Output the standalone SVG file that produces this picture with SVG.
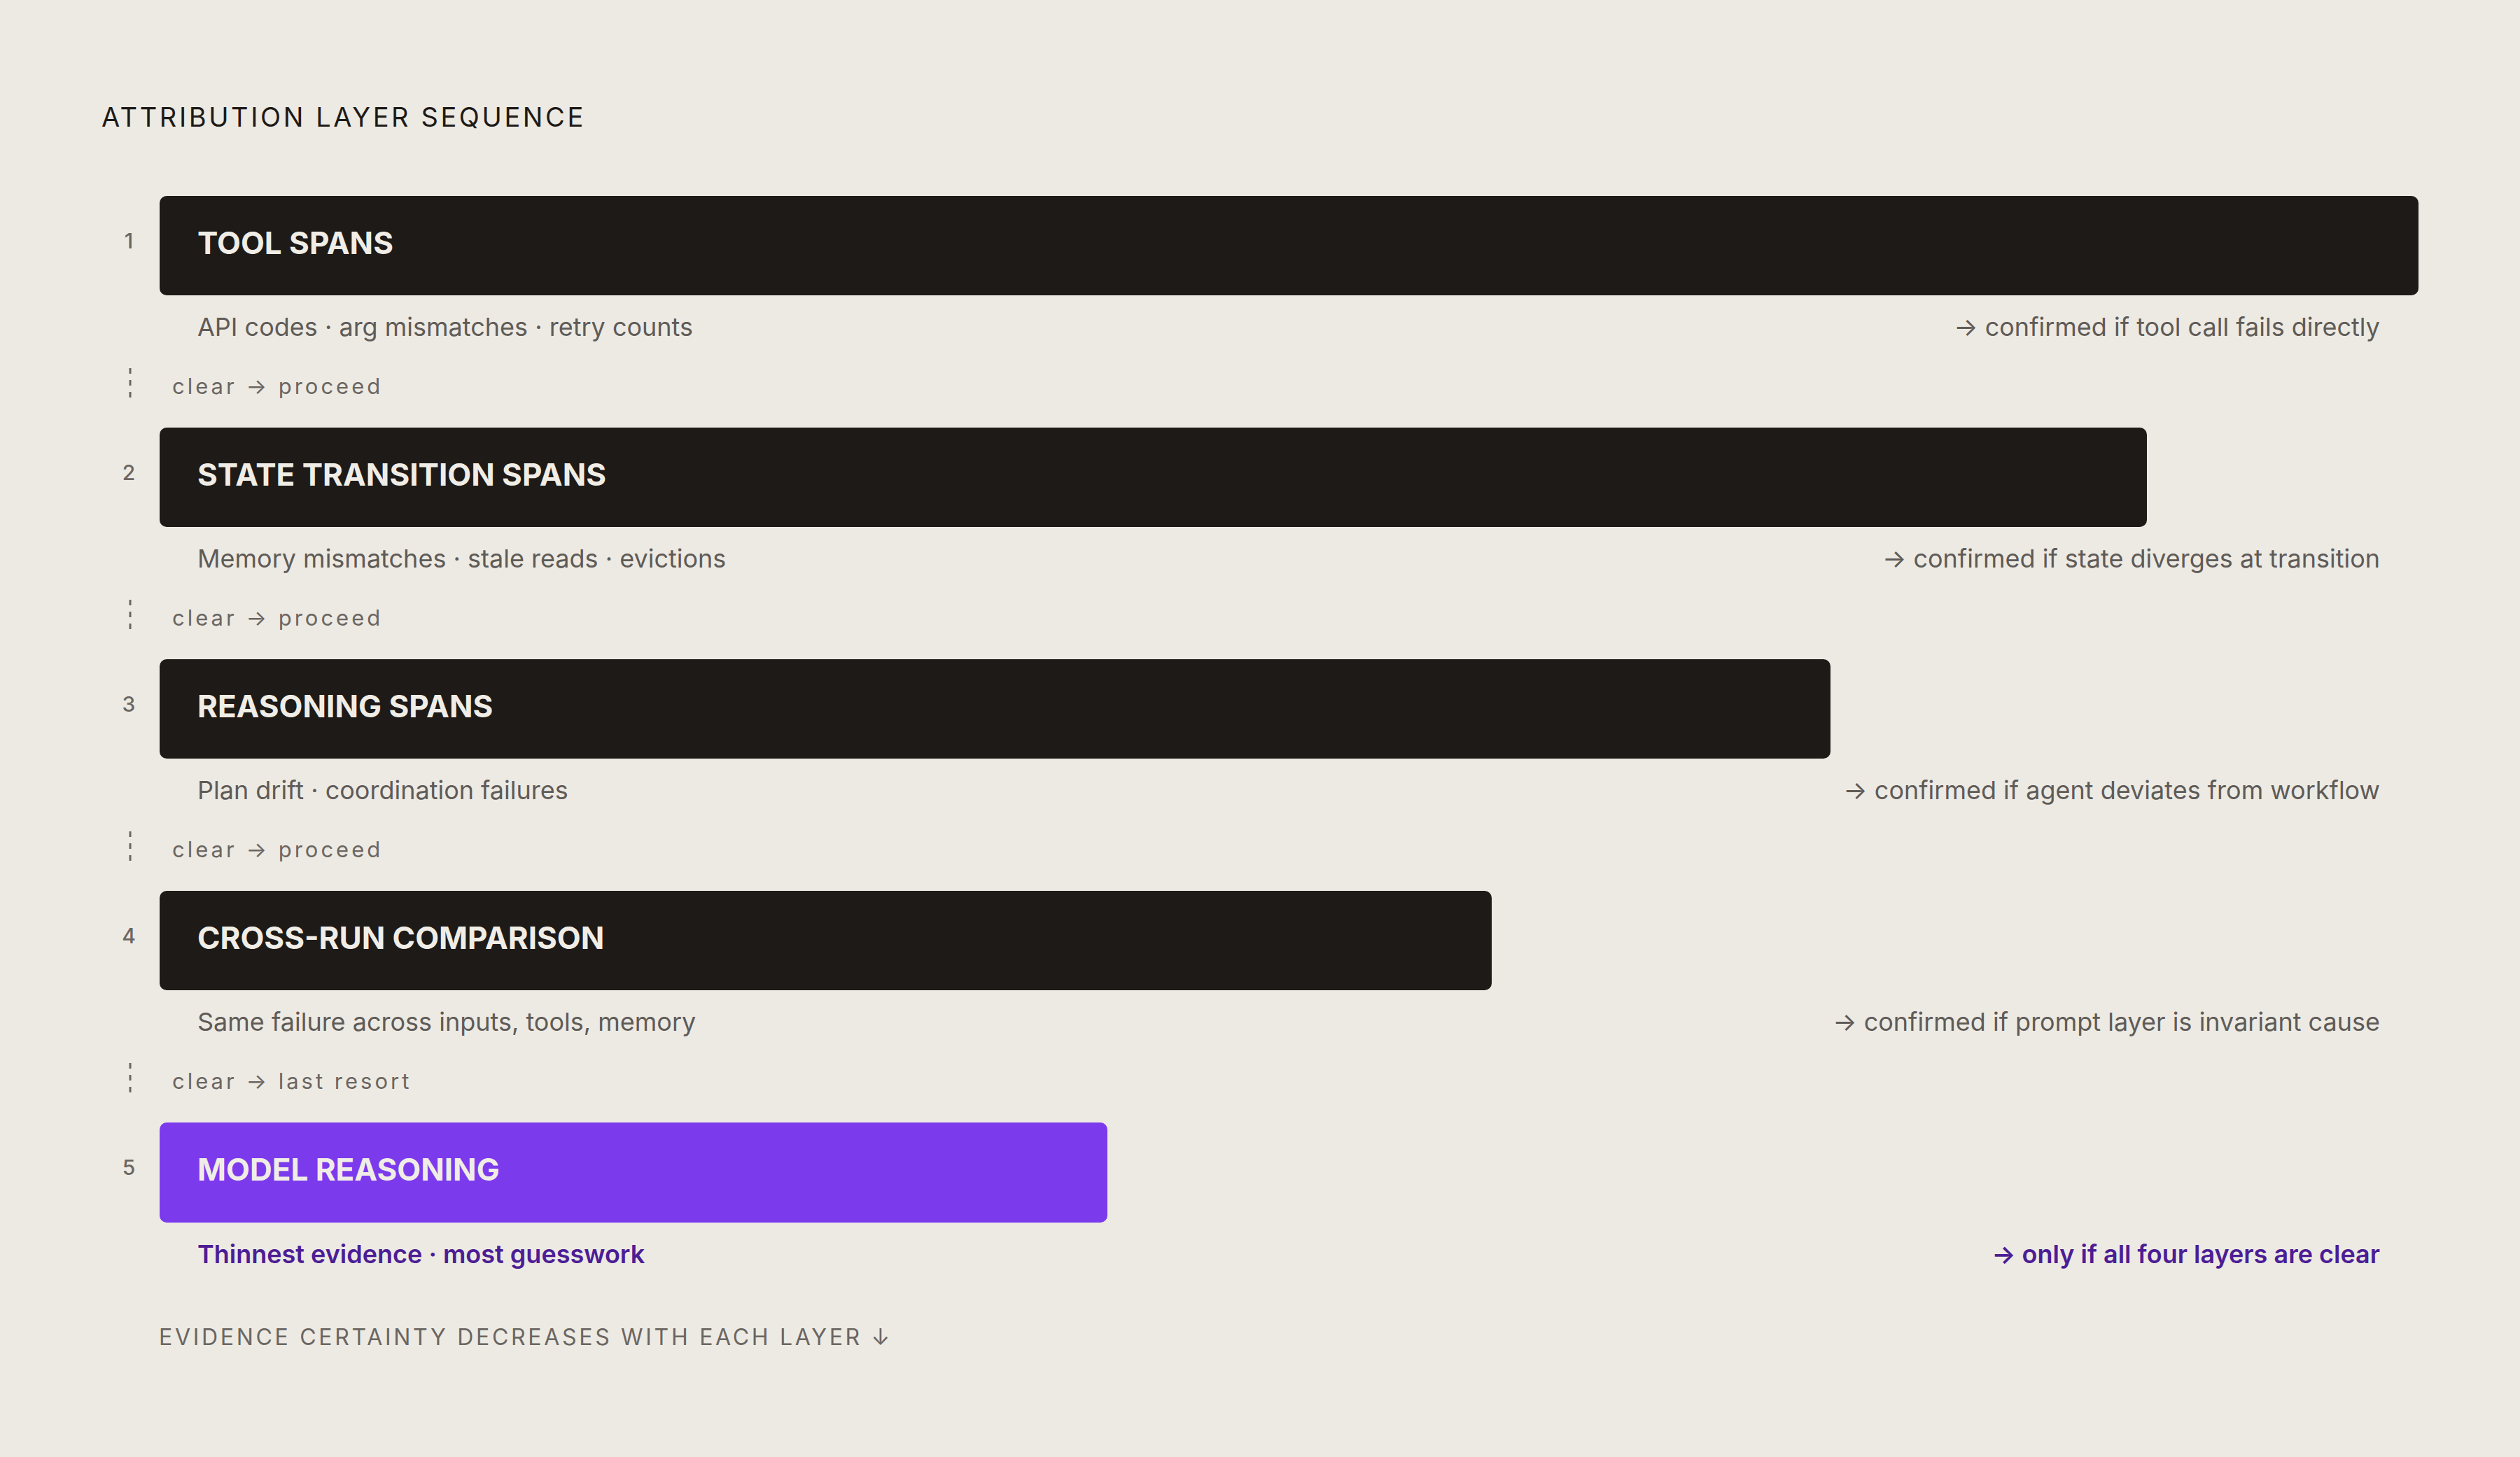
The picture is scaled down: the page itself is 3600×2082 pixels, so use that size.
<svg xmlns="http://www.w3.org/2000/svg" width="3600" height="2082" viewBox="0 0 3600 2082">
<style>
text{font-family:"Inter","Liberation Sans",sans-serif}
.title{font-size:38px;letter-spacing:3.6px;fill:#1e1a17}
.num{font-size:30px;font-weight:500;fill:#6b6661;text-anchor:middle}
.bar{fill:#1e1a17}
.barP{fill:#7c3aed}
.lab{font-size:44px;font-weight:700;fill:#f0ede6}
.sub{font-size:36px;fill:#5f5b57}
.subR{font-size:36px;fill:#5f5b57;text-anchor:end}
.subP{font-size:36px;font-weight:600;fill:#4c1d95}
.subPR{font-size:36px;font-weight:600;fill:#4c1d95;text-anchor:end}
.clr{font-size:31px;letter-spacing:4px;fill:#6b6661}
.dash{stroke:#6b6661;stroke-width:3;stroke-dasharray:8 9;fill:none}
.foot{font-size:32px;letter-spacing:3.7px;fill:#6b6661}
</style>
<rect width="3600" height="2082" fill="#edeae4"/>
<text class="title" x="145" y="181">ATTRIBUTION LAYER SEQUENCE</text>

<g id="layer1">
<text class="num" x="184" y="355">1</text>
<rect class="bar" x="228" y="280" width="3227" height="142" rx="10"/>
<text class="lab" x="282" y="363">TOOL SPANS</text>
<text class="sub" x="282" y="480">API codes · arg mismatches · retry counts</text>
<text class="subR" x="3400" y="480">→ confirmed if tool call fails directly</text>
</g>
<g id="layer2">
<text class="num" x="184" y="686">2</text>
<rect class="bar" x="228" y="611" width="2839" height="142" rx="10"/>
<text class="lab" x="282" y="694">STATE TRANSITION SPANS</text>
<text class="sub" x="282" y="811">Memory mismatches · stale reads · evictions</text>
<text class="subR" x="3400" y="811">→ confirmed if state diverges at transition</text>
</g>
<g id="layer3">
<text class="num" x="184" y="1017">3</text>
<rect class="bar" x="228" y="942" width="2387" height="142" rx="10"/>
<text class="lab" x="282" y="1025">REASONING SPANS</text>
<text class="sub" x="282" y="1142">Plan drift · coordination failures</text>
<text class="subR" x="3400" y="1142">→ confirmed if agent deviates from workflow</text>
</g>
<g id="layer4">
<text class="num" x="184" y="1348">4</text>
<rect class="bar" x="228" y="1273" width="1903" height="142" rx="10"/>
<text class="lab" x="282" y="1356">CROSS-RUN COMPARISON</text>
<text class="sub" x="282" y="1473">Same failure across inputs, tools, memory</text>
<text class="subR" x="3400" y="1473">→ confirmed if prompt layer is invariant cause</text>
</g>
<g id="layer5">
<text class="num" x="184" y="1679">5</text>
<rect class="barP" x="228" y="1604" width="1354" height="143" rx="10"/>
<text class="lab" x="282" y="1687">MODEL REASONING</text>
<text class="subP" x="282" y="1805">Thinnest evidence · most guesswork</text>
<text class="subPR" x="3400" y="1805">→ only if all four layers are clear</text>
</g>

<g id="connectors">
<line class="dash" x1="186" y1="526" x2="186" y2="572"/>
<text class="clr" x="246" y="563">clear → proceed</text>
<line class="dash" x1="186" y1="857" x2="186" y2="903"/>
<text class="clr" x="246" y="894">clear → proceed</text>
<line class="dash" x1="186" y1="1188" x2="186" y2="1234"/>
<text class="clr" x="246" y="1225">clear → proceed</text>
<line class="dash" x1="186" y1="1519" x2="186" y2="1565"/>
<text class="clr" x="246" y="1556">clear → last resort</text>
</g>

<text class="foot" x="227" y="1922">EVIDENCE CERTAINTY DECREASES WITH EACH LAYER ↓</text>
</svg>
